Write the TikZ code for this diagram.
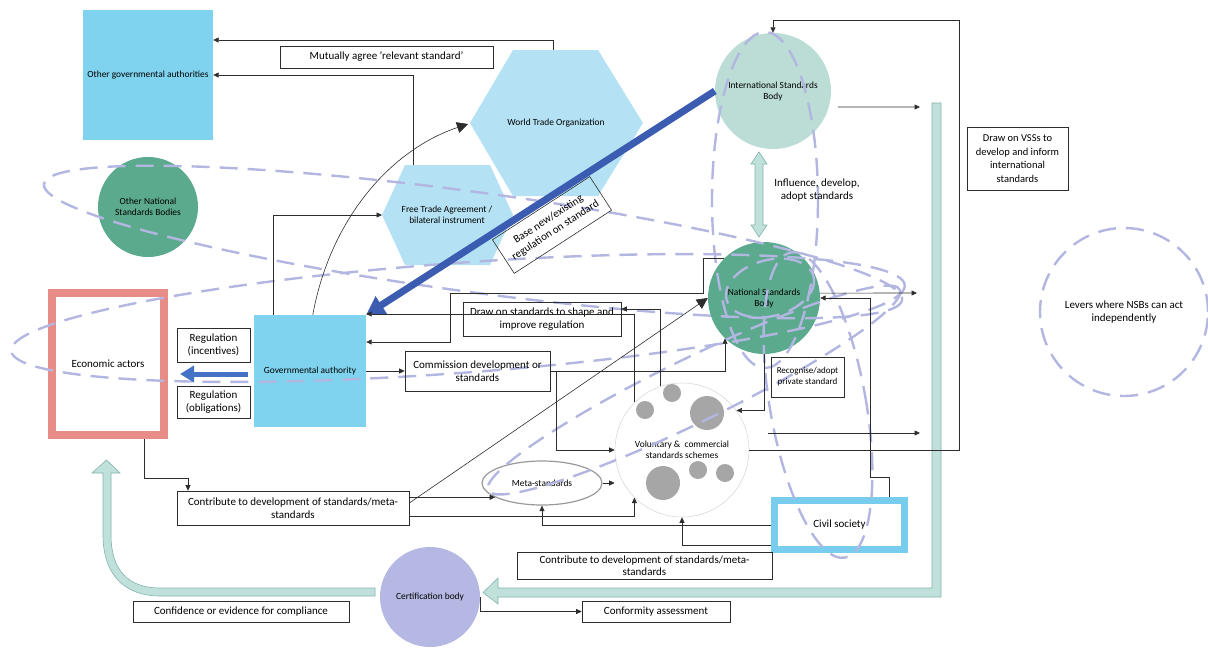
\documentclass[tikz,border=0pt]{standalone}
\usepackage{fontspec}
\setmainfont{Carlito}
\usetikzlibrary{arrows.meta,shapes.geometric,calc}
\definecolor{govc}{RGB}{128,211,238}
\definecolor{hexc}{RGB}{180,226,244}
\definecolor{nsbc}{RGB}{91,170,142}
\definecolor{isbc}{RGB}{187,221,213}
\definecolor{econc}{RGB}{232,140,135}
\definecolor{civc}{RGB}{120,205,238}
\definecolor{certc}{RGB}{180,184,226}
\definecolor{barc}{RGB}{192,225,219}
\definecolor{barline}{RGB}{130,180,172}
\definecolor{bluec}{RGB}{68,114,196}
\definecolor{blued}{RGB}{60,92,178}
\definecolor{levc}{RGB}{178,182,224}
\definecolor{linec}{RGB}{45,45,45}
\definecolor{greyc}{RGB}{166,166,166}
\begin{document}
\begin{tikzpicture}[x=1pt,y=-1pt,
  lbl/.style={font=\fontsize{11}{13}\selectfont, align=center},
  sm/.style={font=\fontsize{9.4}{11}\selectfont, align=center},
  tbox/.style={draw=linec, line width=0.6pt, lbl, inner sep=1pt},
  arr/.style={draw=linec, line width=0.6pt, -{Triangle[length=5.5pt,width=5pt]}},
  bigarr/.style={draw=linec, line width=0.6pt, -{Triangle[length=11pt,width=11pt]}},
  lev/.style={draw=levc, line width=2.4pt, dash pattern=on 18pt off 10pt},
  block/.style={fill=barc, draw=barline, line width=0.6pt},
  dot/.style={circle, fill=greyc, inner sep=0pt},
]
\useasboundingbox (0,0) rectangle (1208,648);

% ---------- filled shapes ----------
\node[fill=govc, minimum width=130pt, minimum height=130pt, sm] (oga) at (148,75) {Other governmental authorities};
\node[fill=govc, minimum width=112pt, minimum height=112pt, sm] (gov) at (310,371) {Governmental authority};
\path[fill=hexc] (470,123) -- (513,50) -- (598,50) -- (643,123) -- (598,196) -- (513,196) -- cycle;
\node[sm] (wto) at (556,123) {World Trade Organization};
\coordinate (wtoL) at (468,124);
\coordinate (wtoT) at (553,50);
\path[fill=hexc] (382,215) -- (405,165) -- (490,165) -- (513,215) -- (490,265) -- (405,265) -- cycle;
\node[sm] (fta) at (447,215) {Free Trade Agreement /\\bilateral instrument};
\coordinate (ftaL) at (382,215);
\coordinate (ftaT) at (413,165);

\node[circle, fill=nsbc, minimum size=100pt, sm] (onsb) at (148,207) {Other National\\Standards Bodies};
\node[circle, fill=isbc, minimum size=116pt, sm] (isb) at (773,91) {International Standards\\Body};
\node[circle, fill=nsbc, minimum size=112pt, sm] (nsb) at (764,298) {National Standards\\Body};
\node[circle, fill=certc, minimum size=100pt, sm] (cert) at (430,597) {Certification body};
\node[circle, draw=black!15, line width=0.6pt, minimum size=134pt, sm] (vcss) at (682,450) {Voluntary \&\ \ commercial\\standards schemes};
\node[dot, minimum size=18pt] (g1) at (645,410) {};
\node[dot, minimum size=18pt] (g2) at (672,393) {};
\node[dot, minimum size=34pt] (g3) at (707,413) {};
\node[dot, minimum size=34pt] (g4) at (663,483) {};
\node[dot, minimum size=18pt] (g5) at (698,470) {};
\node[dot, minimum size=18pt] (g6) at (725,473) {};
\node[ellipse, draw=black!40, line width=1.2pt, minimum width=120pt, minimum height=44pt, sm, inner sep=0pt] (meta) at (542,483) {Meta-standards};

\node[draw=econc, line width=8pt, minimum width=112pt, minimum height=142pt, lbl] (econ) at (108,364) {Economic actors};
\node[draw=civc, line width=7pt, minimum width=130pt, minimum height=49pt, lbl] (civ) at (839.5,525) {Civil society};
\node[circle, lev, minimum size=168pt, lbl] (levers) at (1124,312) {Levers where NSBs can act\\independently};

% ---------- block arrows ----------
\path[block] (932,103) -- (941,103) -- (941,597) -- (498,597) -- (498,604) -- (483,592.5) -- (498,578) -- (498,588) -- (932,588) -- cycle;
\path[block] (375,588) -- (160,588) .. controls (128,588) and (111,570) .. (111,535) -- (111,473) -- (120,473) -- (106.5,460) -- (92,473) -- (103,473) -- (103,535) .. controls (103,575) and (125,596) .. (160,596) -- (375,596) -- cycle;
\path[block] (759,152) -- (767,164) -- (763,164) -- (763,225) -- (767,225) -- (759,237) -- (751,225) -- (755,225) -- (755,164) -- (751,164) -- cycle;

% ---------- dashed levers ----------
\draw[lev, rotate around={-7.7:(473,242)}] (473,242) ellipse [x radius=433, y radius=50];
\draw[lev, rotate around={4.2:(458,318)}] (458,318) ellipse [x radius=448, y radius=55];
\draw[lev] (765,200) ellipse [x radius=53, y radius=168];
\draw[lev, rotate around={10:(818,405)}] (818,405) ellipse [x radius=48, y radius=155];
\draw[lev, rotate around={26:(694,390)}] (694,390) ellipse [x radius=229, y radius=32];
\draw[lev, rotate around={15:(770,288)}] (770,288) ellipse [x radius=45, y radius=28];

% ---------- text boxes ----------
\node[tbox, minimum width=213pt, minimum height=22pt] (mutual) at (386.5,57) {Mutually agree 'relevant standard'};
\node[tbox, minimum width=73pt, minimum height=34pt] (regi) at (213.5,345) {Regulation\\(incentives)};
\node[tbox, minimum width=73pt, minimum height=32pt] (rego) at (213.5,402) {Regulation\\(obligations)};
\node[tbox, minimum width=116pt, minimum height=40pt, rotate=33] (base) at (552,225) {Base new/existing\\regulation on standard};
\node[tbox, minimum width=158pt, minimum height=34pt] (drawon) at (542,319) {Draw on standards to shape and\\improve regulation};
\node[tbox, minimum width=145pt, minimum height=40pt] (comm) at (477.5,371) {Commission development or\\standards};
\node[tbox, minimum width=73pt, minimum height=40pt, font=\fontsize{9}{11}\selectfont] (recog) at (807.5,377) {Recognise/adopt\\private standard};
\node[tbox, minimum width=101pt, minimum height=63pt, font=\fontsize{10.5}{13.5}\selectfont] (vss) at (1017.5,158.5) {Draw on VSSs to\\develop and inform\\international\\standards};
\node[tbox, minimum width=232pt, minimum height=34pt] (contribl) at (293,508) {Contribute to development of standards/meta-\\standards};
\node[tbox, minimum width=255pt, minimum height=27pt, font=\fontsize{11}{12.5}\selectfont] (contribb) at (644.5,565.5) {Contribute to development of standards/meta-\\standards};
\node[tbox, minimum width=216pt, minimum height=21pt] (confev) at (241,611.5) {Confidence or evidence for compliance};
\node[tbox, minimum width=148pt, minimum height=21pt] (conf) at (656,611.5) {Conformity assessment};
\node[lbl] (infl) at (817,190) {Influence, develop,\\adopt standards};

% ---------- blue arrows ----------
\draw[blued, line width=7pt, -{Triangle[length=18pt,width=20pt]}] (isb.west) -- (gov.north east);
\draw[bluec, line width=5pt, -{Triangle[length=14pt,width=16pt]}] ([xshift=-6pt,yshift=-3pt]gov.west) -- ([xshift=12pt,yshift=-10pt]econ.east);

% ---------- connectors ----------
\coordinate (t1) at (959,20);
\draw[arr] (vcss.east) -| (t1) -| (isb.north);
\coordinate (r2) at (920,107);
\draw[arr] ([xshift=9pt]isb.-16) -- (r2);
\coordinate (r1) at (917,293);
\draw[arr] (nsb.5) -- (r1);
\coordinate (f1) at (768,433);
\coordinate (f2) at (920,433);
\draw[arr] (f1) -- (f2);
\coordinate (c1) at (870,477);
\draw[arr] ([xshift=50pt]civ.north) |- (c1) |- (nsb.east);
\draw[arr] (nsb.south) |- (vcss.36);
\draw[arr] (comm.east) -| (nsb.226);
\draw[arr] ([xshift=6pt]comm.east) |- (vcss.west);
\coordinate (p1) at (703,293);
\coordinate (p2) at (450,293);
\draw[arr] (nsb.135) -| (p1) -- (p2) |- ([yshift=29pt]gov.east);
\draw[arr] (vcss.135) |- ([yshift=57pt]gov.east);
\draw[arr] (vcss.109) |- ([yshift=10pt]drawon.east);
\draw[arr] (gov.east) -- (comm.west);
\draw[arr] (wtoT) |- ([yshift=35pt]oga.east);
\draw[arr] (ftaT) |- (oga.east);
\draw[arr] ([xshift=19pt]gov.north west) |- (ftaL);
\draw[bigarr] ([xshift=59pt]gov.north west) .. controls (330,220) and (390,150) .. (wtoL);
\coordinate (e1) at (188,478);
\draw[arr] ([xshift=36pt]econ.south) |- (e1) -- (e1 |- contribl.north);
\draw[bigarr] ([yshift=5pt]contribl.east) -- (nsb.west);
\draw[arr] (contribl.east |- meta.197) -- (meta.197);
\draw[arr] ([yshift=-8pt]contribl.east) -| (vcss.225);
\draw[arr] (meta.east) -- (meta.east -| vcss.west);
\draw[arr] (civ.west) -| (meta.south);
\draw[arr] ([yshift=-20pt]civ.west) -| (vcss.south);
\draw[arr] (cert.east) |- (conf.west);
\end{tikzpicture}
\end{document}
